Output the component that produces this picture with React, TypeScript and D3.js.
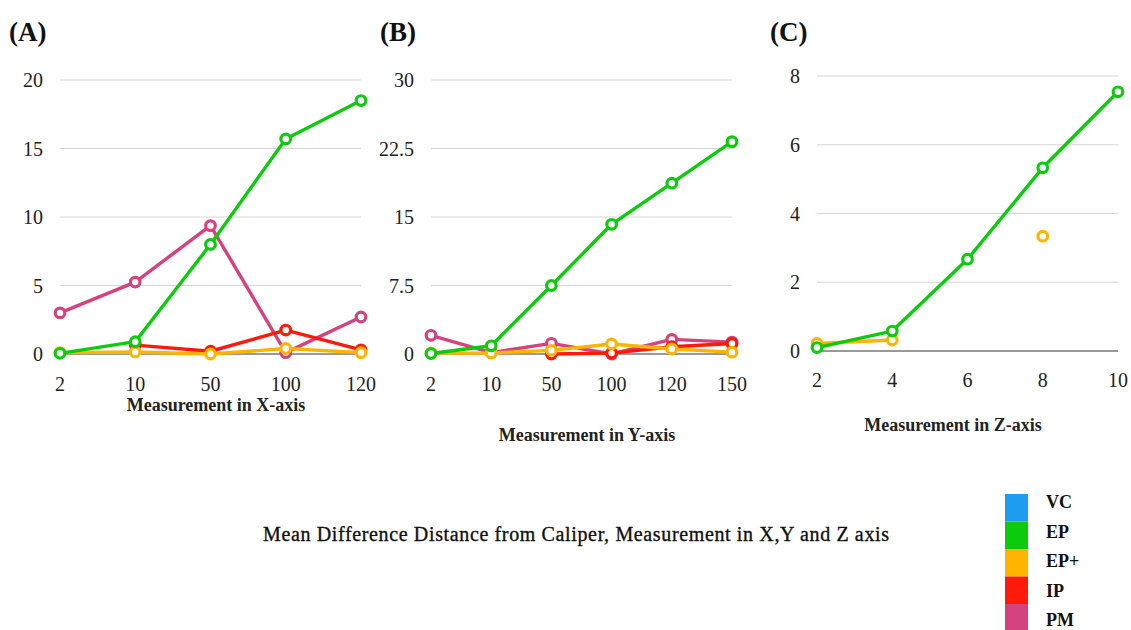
import React from "react";
import * as d3 from "d3";

const seriesNames = ["VC", "EP", "EP+", "IP", "PM"];
const seriesColors = ["#1E9CEF", "#0CCB0C", "#FFB400", "#FF1A0A", "#D4437E"];

const xCatsA = ["2", "10", "50", "100", "120"];
const yTicksA = [0, 5, 10, 15, 20];
const epA = [0.05, 0.9, 8.0, 15.7, 18.5];
const epPlusA = [0.1, 0.15, 0.0, 0.4, 0.1];
const ipA: (number | null)[] = [null, 0.65, 0.2, 1.75, 0.3];
const pmA = [3.0, 5.25, 9.37, 0.1, 2.7];

const xCatsB = ["2", "10", "50", "100", "120", "150"];
const yTicksB = [0, 7.5, 15, 22.5, 30];
const epB = [0.05, 0.9, 7.5, 14.2, 18.7, 23.25];
const epPlusB = [0.1, 0.1, 0.4, 1.1, 0.55, 0.2];
const ipB: (number | null)[] = [null, null, 0.0, 0.1, 0.8, 1.15];
const pmB = [2.05, 0.15, 1.17, 0.0, 1.6, 1.3];

const xCatsC = ["2", "4", "6", "8", "10"];
const yTicksC = [0, 2, 4, 6, 8];
const epC = [0.1, 0.58, 2.67, 5.33, 7.54];
const epPlusC: (number | null)[] = [0.22, 0.32, null, 3.34, null];

const FONT = "'Liberation Serif', 'Times New Roman', serif";

type Panel = {
  label: string;
  labelX: number;
  cats: string[];
  yTicks: number[];
  x0: number;
  x1: number;
  yTop: number;
  yBot: number;
  tickLabelY: number;
  title: string;
  titleX: number;
  titleY: number;
  series: { idx: number; values: (number | null)[] }[];
};

const panels: Panel[] = [
  {
    label: "(A)", labelX: 9, cats: xCatsA, yTicks: yTicksA,
    x0: 60, x1: 361, yTop: 80, yBot: 354, tickLabelY: 391,
    title: "Measurement in X-axis", titleX: 216, titleY: 411,
    series: [
      { idx: 4, values: pmA },
      { idx: 3, values: ipA },
      { idx: 2, values: epPlusA },
      { idx: 1, values: epA },
    ],
  },
  {
    label: "(B)", labelX: 380, cats: xCatsB, yTicks: yTicksB,
    x0: 431, x1: 732, yTop: 80, yBot: 354, tickLabelY: 391,
    title: "Measurement in Y-axis", titleX: 587, titleY: 441,
    series: [
      { idx: 4, values: pmB },
      { idx: 3, values: ipB },
      { idx: 2, values: epPlusB },
      { idx: 1, values: epB },
    ],
  },
  {
    label: "(C)", labelX: 770, cats: xCatsC, yTicks: yTicksC,
    x0: 817, x1: 1118, yTop: 76, yBot: 351, tickLabelY: 387,
    title: "Measurement in Z-axis", titleX: 953, titleY: 431,
    series: [
      { idx: 2, values: epPlusC },
      { idx: 1, values: epC },
    ],
  },
];

function PanelView({ p }: { p: Panel }) {
  const x = d3.scalePoint<string>().domain(p.cats).range([p.x0, p.x1]);
  const yMax = p.yTicks[p.yTicks.length - 1];
  const y = d3.scaleLinear().domain([0, yMax]).range([p.yBot, p.yTop]);
  const line = d3
    .line<number | null>()
    .defined((d) => d !== null)
    .x((_, i) => x(p.cats[i]) as number)
    .y((d) => y(d as number));
  return (
    <g>
      <text x={p.labelX} y={41} fontFamily={FONT} fontWeight="bold" fontSize={27} fill="#111">
        {p.label}
      </text>
      {p.yTicks.map((t) => (
        <g key={t}>
          {t !== 0 && (
            <line x1={p.x0} x2={p.x1} y1={y(t)} y2={y(t)} stroke="#d4d6d8" strokeWidth={1.2} />
          )}
          <text
            x={p.x0 - 17}
            y={y(t)}
            dy="0.35em"
            textAnchor="end"
            fontFamily={FONT}
            fontSize={20}
            fill="#222"
          >
            {t}
          </text>
        </g>
      ))}
      <line x1={p.x0} x2={p.x1} y1={y(0)} y2={y(0)} stroke="#777" strokeWidth={1.3} />
      {p.cats.map((c) => (
        <text
          key={c}
          x={x(c)}
          y={p.tickLabelY}
          textAnchor="middle"
          fontFamily={FONT}
          fontSize={20}
          fill="#222"
        >
          {c}
        </text>
      ))}
      <text
        x={p.titleX}
        y={p.titleY}
        textAnchor="middle"
        fontFamily={FONT}
        fontWeight="bold"
        fontSize={18}
        fill="#222"
      >
        {p.title}
      </text>
      {p.series.map((s) => (
        <g key={s.idx}>
          <path d={line(s.values) || ""} fill="none" stroke={seriesColors[s.idx]} strokeWidth={3.4} strokeLinejoin="round" />
          {s.values.map((v, i) =>
            v === null ? null : (
              <circle
                key={i}
                cx={x(p.cats[i])}
                cy={y(v)}
                r={4.8}
                fill="#fff"
                stroke={seriesColors[s.idx]}
                strokeWidth={3.2}
              />
            )
          )}
        </g>
      ))}
    </g>
  );
}

export default function App() {
  return (
    <svg
      width={1131}
      height={630}
      style={{ position: "absolute", left: 0, top: 0, background: "#fff" }}
    >
      <rect width={1131} height={630} fill="#fff" />
      {panels.map((p) => (
        <PanelView key={p.label} p={p} />
      ))}
      <text
        x={576}
        y={541}
        textAnchor="middle"
        fontFamily={FONT}
        fontSize={20}
        textLength={626}
        lengthAdjust="spacing"
        fill="#111"
        stroke="#111"
        strokeWidth={0.35}
      >
        Mean Difference Distance from Caliper, Measurement in X,Y and Z axis
      </text>
      {seriesNames.map((n, i) => (
        <g key={n}>
          <rect x={1005} y={494 + i * 27.5} width={23} height={27.5} fill={seriesColors[i]} />
          <text
            x={1046}
            y={502 + i * 29.5}
            dy="0.35em"
            fontFamily={FONT}
            fontWeight="bold"
            fontSize={18}
            fill="#111"
          >
            {n}
          </text>
        </g>
      ))}
    </svg>
  );
}
